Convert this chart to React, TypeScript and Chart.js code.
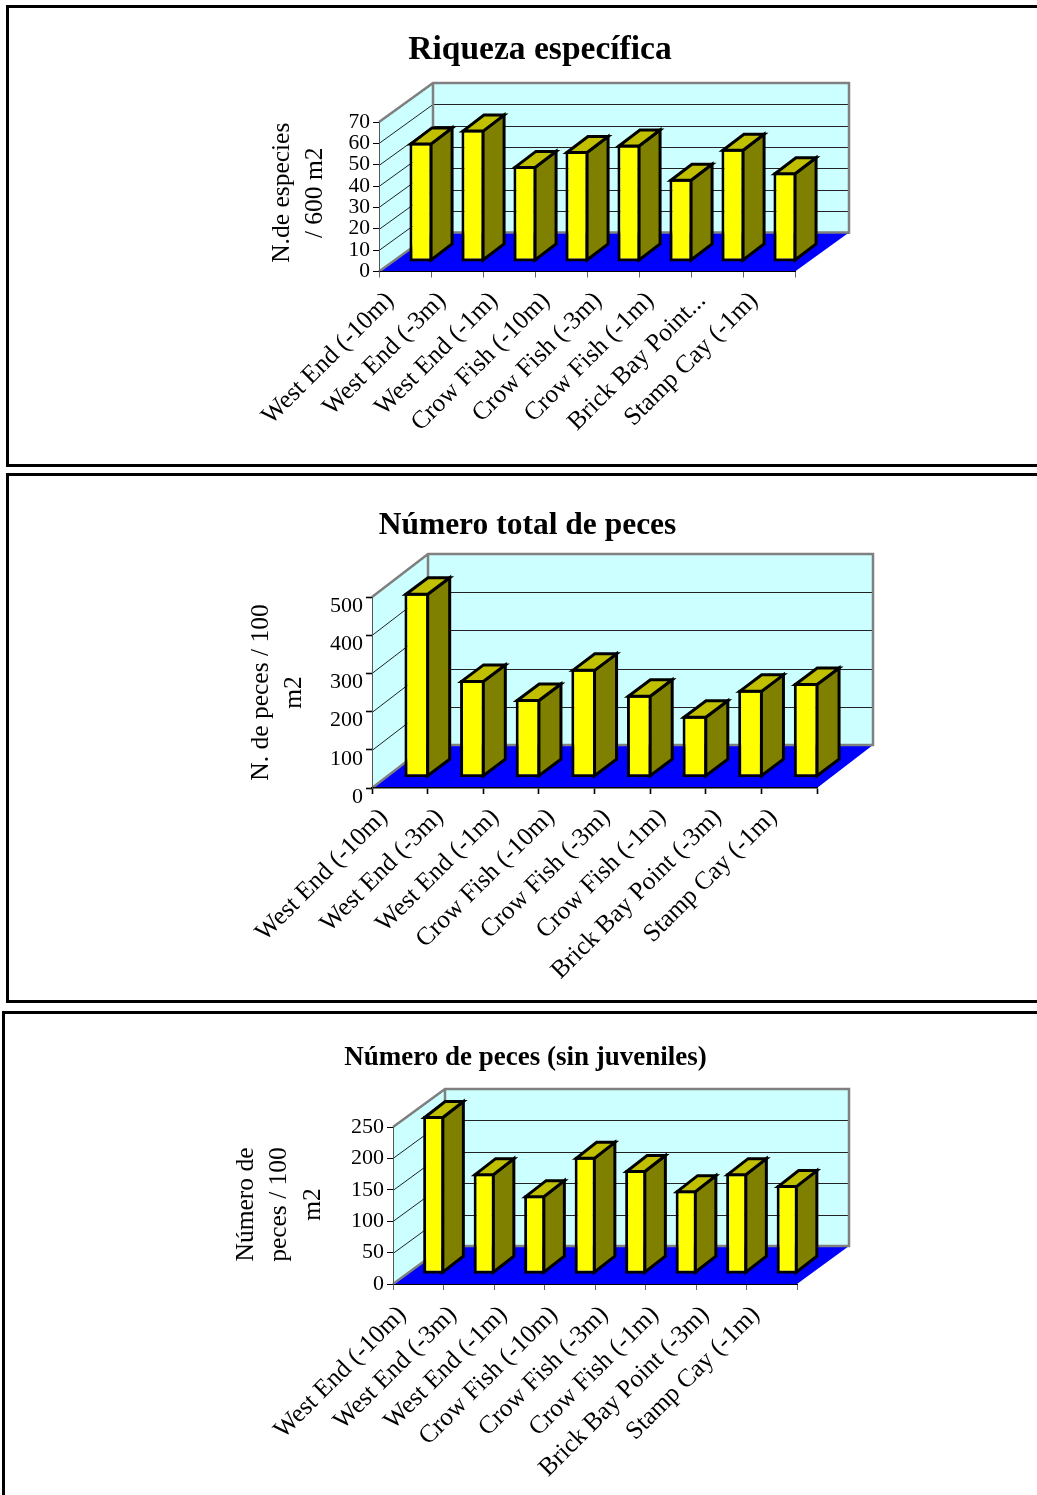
import React, { useEffect, useRef } from "react";
import { Chart, registerables } from "chart.js";

Chart.register(...registerables);

const serif = '"Liberation Serif", "Times New Roman", serif';

// Sampling stations along the x axis of each panel.
const sites = [
  "West End (-10m)",
  "West End (-3m)",
  "West End (-1m)",
  "Crow Fish (-10m)",
  "Crow Fish (-3m)",
  "Crow Fish (-1m)",
  "Brick Bay Point (-3m)",
  "Stamp Cay (-1m)",
];
const sitesShort = [
  "West End (-10m)",
  "West End (-3m)",
  "West End (-1m)",
  "Crow Fish (-10m)",
  "Crow Fish (-3m)",
  "Crow Fish (-1m)",
  "Brick Bay Point...",
  "Stamp Cay (-1m)",
];

// Survey results, one array per panel.
const riqueza = [56, 62, 45, 52, 55, 39, 53, 42];
const pecesTotal = [484, 256, 206, 285, 217, 162, 230, 248];
const pecesAdultos = [252, 161, 126, 187, 166, 134, 161, 142];

type Panel = {
  labels: string[];
  values: number[];
  title: string;
  titleSize: number;
  titleCenterX: number;
  titleCenterY: number;
  yTitle: string[];
  yTitleX: number;
  yTitleShift: number;
  yTitleSize: number;
  yMax: number;
  yStep: number;
  frame: { left: number; top: number; bottom: number };
  canvasTop: number;
  canvasHeight: number;
  plot: { left: number; right: number; top: number; bottom: number };
  wall: { dx: number; dy: number };
  barShift: { dx: number; dy: number };
  barDepth: { dx: number; dy: number };
  tickFont: number;
  xFont: number;
  xLabelOffset: number;
  xPadding: number;
  yLabelOffset: number;
  xTickColor: string;
  tickWidth: number;
  barPct: number;
};

const panels: Panel[] = [
  {
    labels: sitesShort,
    values: riqueza,
    title: "Riqueza específica",
    titleSize: 33.5,
    titleCenterX: 540,
    titleCenterY: 50,
    yTitle: ["N.de especies", "/ 600 m2"],
    yTitleX: 282,
    yTitleShift: -4,
    yTitleSize: 25.5,
    yMax: 70,
    yStep: 10,
    frame: { left: 6, top: 5, bottom: 467 },
    canvasTop: 8,
    canvasHeight: 456,
    plot: { left: 379, right: 795, top: 122, bottom: 271.5 },
    wall: { dx: 54, dy: -39 },
    barShift: { dx: 16, dy: -9.5 },
    barDepth: { dx: 21, dy: -16 },
    tickFont: 21.5,
    xFont: 25.5,
    xLabelOffset: -15,
    xPadding: 8.5,
    yLabelOffset: 0,
    xTickColor: "#666666",
    tickWidth: 1,
    barPct: 0.445,
  },
  {
    labels: sites,
    values: pecesTotal,
    title: "Número total de peces",
    titleSize: 31.5,
    titleCenterX: 527.5,
    titleCenterY: 526,
    yTitle: ["N. de peces / 100", "m2"],
    yTitleX: 261,
    yTitleShift: 0,
    yTitleSize: 25.5,
    yMax: 500,
    yStep: 100,
    frame: { left: 6, top: 473, bottom: 1003 },
    canvasTop: 476,
    canvasHeight: 525,
    plot: { left: 372, right: 817, top: 597, bottom: 788 },
    wall: { dx: 56, dy: -43 },
    barShift: { dx: 17, dy: -10.3 },
    barDepth: { dx: 22, dy: -16.5 },
    tickFont: 22,
    xFont: 25.5,
    xLabelOffset: -16,
    xPadding: 8.5,
    yLabelOffset: 9,
    xTickColor: "#000000",
    tickWidth: 1.6,
    barPct: 0.445,
  },
  {
    labels: sites,
    values: pecesAdultos,
    title: "Número de peces (sin juveniles)",
    titleSize: 27,
    titleCenterX: 525.5,
    titleCenterY: 1058,
    yTitle: ["Número de", "peces / 100", "m2"],
    yTitleX: 246.5,
    yTitleShift: -1,
    yTitleSize: 25.5,
    yMax: 250,
    yStep: 50,
    frame: { left: 2, top: 1011, bottom: 1560 },
    canvasTop: 1014,
    canvasHeight: 481,
    plot: { left: 393, right: 797, top: 1127, bottom: 1284 },
    wall: { dx: 52, dy: -38 },
    barShift: { dx: 15.5, dy: -9.7 },
    barDepth: { dx: 20.5, dy: -16 },
    tickFont: 22,
    xFont: 25.5,
    xLabelOffset: -16,
    xPadding: 10,
    yLabelOffset: 0,
    xTickColor: "#666666",
    tickWidth: 1,
    barPct: 0.42,
  },
];

const WALL_FILL = "#CCFFFF";
const FLOOR_FILL = "#0000FF";
const WALL_EDGE = "#808080";
const CANVAS_WIDTH = 1037;
const BAR_STROKE = 3;

function polygon(ctx: CanvasRenderingContext2D, pts: number[][], fill: string, stroke: string, lw: number) {
  ctx.beginPath();
  pts.forEach(([x, y], i) => (i ? ctx.lineTo(x, y) : ctx.moveTo(x, y)));
  ctx.closePath();
  ctx.fillStyle = fill;
  ctx.fill();
  if (lw > 0) {
    ctx.strokeStyle = stroke;
    ctx.lineWidth = lw;
    ctx.lineJoin = "miter";
    ctx.stroke();
  }
}

// Draws the box behind the bars and extrudes each bar into a block.
function box3d(p: Panel) {
  return {
    id: "box3d",
    afterLayout(chart: any) {
      // The heading is centred on its own axis rather than on the plot.
      chart.titleBlock.left = 0;
      chart.titleBlock.right = p.titleCenterX * 2;
      // Nudges the rotated axis title along the axis.
      const y = chart.scales.y;
      const drawTitle = Object.getPrototypeOf(y).drawTitle;
      y.drawTitle = function () {
        chart.ctx.save();
        chart.ctx.translate(0, p.yTitleShift);
        drawTitle.call(this);
        chart.ctx.restore();
      };
    },
    beforeDraw(chart: any) {
      const { ctx, chartArea: a, scales } = chart;
      const { dx, dy } = p.wall;
      ctx.save();
      polygon(ctx, [[a.left + dx, a.top + dy], [a.right + dx, a.top + dy], [a.right + dx, a.bottom + dy], [a.left + dx, a.bottom + dy]], WALL_FILL, WALL_EDGE, 0);
      polygon(ctx, [[a.left, a.top], [a.left + dx, a.top + dy], [a.left + dx, a.bottom + dy], [a.left, a.bottom]], WALL_FILL, WALL_EDGE, 0);
      ctx.strokeStyle = "#222222";
      ctx.lineWidth = 1;
      for (const t of scales.y.ticks) {
        const y = Math.round(scales.y.getPixelForValue(t.value)) + 0.5;
        ctx.beginPath();
        ctx.moveTo(a.left, y);
        ctx.lineTo(a.left + dx, y + dy);
        ctx.lineTo(a.right + dx, y + dy);
        ctx.stroke();
      }
      polygon(ctx, [[a.left, a.bottom], [a.left + dx, a.bottom + dy], [a.right + dx, a.bottom + dy], [a.right, a.bottom]], FLOOR_FILL, WALL_EDGE, 0);
      ctx.strokeStyle = WALL_EDGE;
      ctx.lineWidth = 2.5;
      ctx.beginPath();
      ctx.moveTo(a.left, a.top);
      ctx.lineTo(a.left + dx, a.top + dy);
      ctx.lineTo(a.right + dx, a.top + dy);
      ctx.lineTo(a.right + dx, a.bottom + dy);
      ctx.lineTo(a.left + dx, a.bottom + dy);
      ctx.lineTo(a.left, a.bottom);
      ctx.moveTo(a.left + dx, a.top + dy);
      ctx.lineTo(a.left + dx, a.bottom + dy);
      ctx.stroke();
      ctx.restore();
    },
    beforeDatasetsDraw(chart: any) {
      chart.ctx.save();
      chart.ctx.translate(p.barShift.dx, p.barShift.dy);
    },
    afterDatasetsDraw(chart: any) {
      const { ctx } = chart;
      const { dx, dy } = p.barDepth;
      const inset = BAR_STROKE / 2;
      for (const bar of chart.getDatasetMeta(0).data) {
        const { x, y, base, width } = bar.getProps(["x", "y", "base", "width"], true);
        const l = x - width / 2 + inset;
        const r = x + width / 2 - inset;
        const t = y + inset;
        const b = base - inset;
        polygon(ctx, [[r, t], [r + dx, t + dy], [r + dx, b + dy], [r, b]], "#808000", "#000000", BAR_STROKE);
        polygon(ctx, [[l, t], [l + dx, t + dy], [r + dx, t + dy], [r, t]], "#C0C000", "#000000", BAR_STROKE);
      }
      ctx.restore();
    },
  };
}

function PanelChart({ p }: { p: Panel }) {
  const ref = useRef<HTMLCanvasElement>(null);

  useEffect(() => {
    const titleLine = p.titleSize * 1.2;
    const titlePadTop = p.titleCenterY - p.canvasTop - titleLine / 2;
    const titlePadBottom = p.plot.top - p.canvasTop - titlePadTop - titleLine;
    const yTitleLine = 1.3;
    const chart = new Chart(ref.current!, {
      type: "bar",
      data: {
        labels: p.labels,
        datasets: [
          {
            data: p.values,
            backgroundColor: "#FFFF00",
            borderColor: "#000000",
            borderWidth: BAR_STROKE,
            borderSkipped: false,
            barPercentage: p.barPct,
            categoryPercentage: 1,
            clip: false as any,
          },
        ],
      },
      options: {
        responsive: false,
        animation: false,
        devicePixelRatio: 1,
        layout: { padding: { left: 0, top: 0, bottom: 0, right: CANVAS_WIDTH - p.plot.right } },
        plugins: {
          legend: { display: false },
          tooltip: { enabled: false },
          title: {
            display: true,
            text: p.title,
            color: "#000000",
            font: { family: serif, size: p.titleSize, weight: "bold", lineHeight: 1.2 },
            padding: { top: titlePadTop, bottom: titlePadBottom },
          },
        },
        scales: {
          x: {
            afterFit: (s: any) => {
              s.height = p.canvasHeight - (p.plot.bottom - p.canvasTop);
            },
            grid: { drawOnChartArea: false, tickLength: 6, color: p.xTickColor, tickWidth: p.tickWidth },
            border: { display: true, color: "#000000", width: p.tickWidth },
            ticks: {
              autoSkip: false,
              minRotation: 45,
              maxRotation: 45,
              padding: p.xPadding,
              labelOffset: p.xLabelOffset,
              color: "#000000",
              font: { family: serif, size: p.xFont },
            },
          },
          y: {
            min: 0,
            max: p.yMax,
            afterFit: (s: any) => {
              s.width = p.plot.left;
            },
            grid: { drawOnChartArea: false, tickLength: 6, color: "#000000", tickWidth: p.tickWidth },
            border: { display: true, color: "#555555" },
            ticks: {
              autoSkip: false,
              stepSize: p.yStep,
              padding: 3,
              labelOffset: p.yLabelOffset,
              color: "#000000",
              font: { family: serif, size: p.tickFont },
            },
            title: {
              display: true,
              text: p.yTitle,
              color: "#000000",
              font: { family: serif, size: p.yTitleSize, lineHeight: yTitleLine },
              padding: { top: p.yTitleX - (p.yTitleSize * yTitleLine) / 2, bottom: 0 },
            },
          },
        },
      },
      plugins: [box3d(p)],
    } as any);
    return () => chart.destroy();
  }, [p]);

  return (
    <>
      <div
        style={{
          position: "absolute",
          left: p.frame.left,
          top: p.frame.top,
          width: 1200,
          height: p.frame.bottom - p.frame.top - 6,
          border: "3px solid #000000",
        }}
      />
      <canvas
        ref={ref}
        width={CANVAS_WIDTH}
        height={p.canvasHeight}
        style={{ position: "absolute", left: 0, top: p.canvasTop, width: CANVAS_WIDTH, height: p.canvasHeight }}
      />
    </>
  );
}

export default function App() {
  return (
    <div style={{ position: "fixed", left: 0, top: 0, width: 1037, height: 1495, overflow: "hidden", background: "#ffffff" }}>
      {panels.map((p) => (
        <PanelChart key={p.title} p={p} />
      ))}
    </div>
  );
}
